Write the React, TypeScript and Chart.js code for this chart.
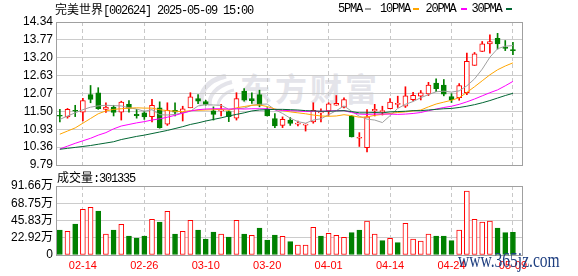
import React, { useEffect, useRef } from "react";
import { Chart, registerables } from "chart.js";
Chart.register(...registerables);

const dates = ["02-11","02-12","02-13","02-14","02-17","02-18","02-19","02-20","02-21","02-24","02-25","02-26","02-27","02-28","03-03","03-04","03-05","03-06","03-07","03-10","03-11","03-12","03-13","03-14","03-17","03-18","03-19","03-20","03-21","03-24","03-25","03-26","03-27","03-28","03-31","04-01","04-02","04-03","04-07","04-08","04-09","04-10","04-11","04-14","04-15","04-16","04-17","04-18","04-21","04-22","04-23","04-24","04-25","04-28","04-29","04-30","05-06","05-07","05-08","05-09"];

const opens = [11.36, 11.32, 11.53, 11.47, 12.03, 12.09, 11.56, 11.63, 11.47, 11.72,
  11.40, 11.45, 11.33, 11.61, 11.09, 11.53, 11.45, 11.61, 11.90, 11.81,
  11.51, 11.51, 11.49, 11.28, 12.14, 11.90, 12.03, 11.56, 11.27, 11.05,
  11.22, 11.09, 11.06, 11.16, 11.45, 11.51, 11.69, 11.63, 11.35, 10.64,
  10.34, 11.51, 11.49, 11.58, 11.72, 11.66, 11.87, 11.98, 12.05, 12.40,
  12.33, 11.97, 11.93, 12.09, 12.96, 13.40, 13.645, 13.82, 13.54, 13.46];
const highs = [11.56, 11.59, 11.69, 11.91, 12.32, 12.25, 11.77, 11.69, 11.82, 11.84,
  11.56, 11.51, 11.88, 11.80, 11.77, 11.77, 11.66, 12.09, 12.03, 11.85,
  11.64, 11.72, 11.51, 12.09, 12.22, 12.09, 12.17, 11.61, 11.43, 11.32,
  11.30, 11.19, 11.10, 11.77, 11.58, 11.77, 12.00, 11.93, 11.37, 10.82,
  11.55, 11.72, 11.66, 11.90, 11.98, 12.28, 12.10, 12.16, 12.42, 12.53,
  12.51, 12.06, 12.38, 13.35, 13.37, 13.72, 13.93, 13.98, 13.75, 13.69];
const lows = [11.16, 11.28, 11.33, 11.19, 11.77, 11.56, 11.46, 11.35, 11.22, 11.47,
  11.28, 11.24, 11.16, 10.96, 11.05, 11.35, 11.19, 11.61, 11.74, 11.69,
  11.22, 11.35, 11.17, 11.22, 11.82, 11.75, 11.64, 11.35, 10.98, 10.98,
  11.05, 11.03, 10.87, 11.12, 11.16, 11.37, 11.69, 11.61, 10.68, 10.38,
  10.21, 11.35, 11.38, 11.58, 11.62, 11.62, 11.83, 11.86, 12.00, 12.12,
  11.99, 11.78, 11.85, 12.03, 12.96, 13.40, 13.35, 13.48, 13.43, 13.30];
const closes = [11.34, 11.56, 11.50, 11.84, 11.88, 11.58, 11.63, 11.46, 11.79, 11.59,
  11.36, 11.32, 11.69, 10.98, 11.53, 11.47, 11.58, 11.96, 11.82, 11.72,
  11.40, 11.54, 11.33, 11.90, 11.85, 11.84, 11.69, 11.35, 11.03, 11.24,
  11.11, 11.12, 11.09, 11.53, 11.47, 11.74, 11.75, 11.87, 10.68, 10.65,
  11.32, 11.56, 11.50, 11.79, 11.75, 11.99, 12.01, 12.09, 12.33, 12.22,
  12.04, 11.87, 12.32, 13.09, 13.33, 13.645, 13.72, 13.645, 13.50, 13.43];

const ma5 = [11.24, 11.35, 11.45, 11.55, 11.63, 11.67, 11.69, 11.68, 11.67, 11.61,
  11.57, 11.50, 11.55, 11.39, 11.38, 11.40, 11.45, 11.50, 11.67, 11.71,
  11.70, 11.69, 11.56, 11.58, 11.60, 11.69, 11.72, 11.73, 11.55, 11.43,
  11.28, 11.17, 11.12, 11.22, 11.26, 11.39, 11.52, 11.67, 11.50, 11.34,
  11.25, 11.22, 11.14, 11.36, 11.59, 11.72, 11.81, 11.93, 12.03, 12.12,
  12.14, 12.11, 12.15, 12.31, 12.53, 12.84, 13.22, 13.49, 13.57, 13.59];
const ma10 = [10.77, 10.87, 10.97, 11.12, 11.27, 11.42, 11.51, 11.56, 11.58, 11.60,
  11.61, 11.60, 11.60, 11.55, 11.52, 11.50, 11.49, 11.52, 11.53, 11.54,
  11.55, 11.56, 11.53, 11.61, 11.65, 11.69, 11.70, 11.65, 11.57, 11.52,
  11.48, 11.45, 11.42, 11.38, 11.35, 11.34, 11.35, 11.39, 11.36, 11.31,
  11.32, 11.37, 11.40, 11.43, 11.46, 11.48, 11.51, 11.54, 11.64, 11.73,
  11.79, 11.85, 11.93, 12.10, 12.28, 12.47, 12.66, 12.82, 12.94, 13.04];
const ma20 = [10.30, 10.39, 10.48, 10.56, 10.64, 10.74, 10.82, 10.94, 11.03, 11.08,
  11.13, 11.17, 11.22, 11.26, 11.31, 11.37, 11.44, 11.51, 11.55, 11.57,
  11.58, 11.58, 11.57, 11.58, 11.57, 11.58, 11.58, 11.58, 11.55, 11.53,
  11.52, 11.51, 11.49, 11.50, 11.50, 11.51, 11.52, 11.52, 11.46, 11.41,
  11.40, 11.41, 11.41, 11.41, 11.40, 11.41, 11.43, 11.46, 11.52, 11.57,
  11.62, 11.66, 11.72, 11.80, 11.89, 11.99, 12.09, 12.18, 12.31, 12.45];
const ma30 = [10.29, 10.32, 10.35, 10.38, 10.41, 10.45, 10.49, 10.53, 10.60, 10.65,
  10.70, 10.74, 10.79, 10.84, 10.89, 10.95, 11.01, 11.08, 11.13, 11.19,
  11.24, 11.29, 11.35, 11.40, 11.45, 11.51, 11.54, 11.55, 11.56, 11.56,
  11.55, 11.54, 11.52, 11.51, 11.50, 11.50, 11.51, 11.52, 11.49, 11.45,
  11.45, 11.46, 11.45, 11.48, 11.49, 11.50, 11.52, 11.52, 11.54, 11.56,
  11.58, 11.59, 11.62, 11.66, 11.71, 11.77, 11.84, 11.92, 12.00, 12.07];

// volume in shares
const volumes = [332000, 314000, 412000, 607000, 633000, 584000, 279000, 332000, 408000, 252000,
  226000, 252000, 474000, 438000, 580000, 279000, 314000, 461000, 332000, 213000,
  306000, 279000, 239000, 461000, 279000, 262000, 359000, 199000, 266000, 248000,
  177000, 133000, 133000, 368000, 252000, 288000, 262000, 235000, 297000, 332000,
  452000, 279000, 190000, 221000, 164000, 421000, 213000, 186000, 279000, 252000,
  252000, 190000, 332000, 850000, 474000, 438000, 452000, 359000, 297000, 301335];
// 1 = red (up), 0 = green (down)
const volUp = [0,1,0,1,1,0,1,0,1,0,
  0,0,1,0,1,0,1,1,0,0,
  0,1,0,1,0,1,0,0,0,1,
  0,1,1,1,0,1,1,1,0,0,
  1,1,0,1,0,1,1,1,1,0,
  0,0,1,1,1,1,1,0,0,0];

const priceTickLabels = ["9.79","10.36","10.93","11.50","12.07","12.63","13.20","13.77","14.34"];
const volTickLabels = ["0","22.92万","45.83万","68.75万","91.66万"];
const labelIdx = [3, 11, 19, 27, 35, 43, 51, 59];

const PRICE_MIN = 9.79;
const PRICE_MAX = 14.34;
const VOL_MAX = 916600;

const RED = "#ff0000";
const GREEN = "#008000";
const MA_COLORS = ["#a0a0a0", "#ffa500", "#ff00ff", "#006633"];
const TICK_FONT = '"Liberation Sans", "Noto Sans CJK SC", sans-serif';
const MONO = '"Liberation Mono", monospace';
const CJK = '"Noto Sans CJK SC", sans-serif';

const framePlugin = {
  id: "frame",
  afterDraw(chart: any) {
    const { ctx, chartArea: a } = chart;
    ctx.save();
    ctx.strokeStyle = "#a0a0a0";
    ctx.lineWidth = 1;
    ctx.strokeRect(Math.round(a.left) + 0.5, Math.round(a.top) + 0.5,
      Math.round(a.right - a.left), Math.round(a.bottom - a.top));
    ctx.restore();
  },
};

const X_MIN = -0.5;
const X_MAX = 60.18;

export default function App() {
  const priceRef = useRef<HTMLCanvasElement>(null);
  const volRef = useRef<HTMLCanvasElement>(null);

  useEffect(() => {
    const idx = dates.map((_, i) => i);
    const up = idx.map((i) => closes[i] >= opens[i]);
    const mas = [ma5, ma10, ma20, ma30];

    const xScaleBase = (showLabels: boolean, height: number) => ({
      type: "linear" as const,
      min: X_MIN,
      max: X_MAX,
      offset: false,
      bounds: "data" as const,
      afterBuildTicks: (s: any) => {
        s.ticks = labelIdx.map((v) => ({ value: v }));
      },
      afterFit: (s: any) => {
        s.height = height;
      },
      ticks: {
        display: showLabels,
        autoSkip: false,
        maxRotation: 0,
        minRotation: 0,
        padding: 4,
        color: RED,
        font: { family: TICK_FONT, size: 11 },
        callback: (v: any) => dates[Math.round(v)] ?? "",
      },
      grid: { color: "#c8c8c8", drawTicks: false, offset: false, lineWidth: 1 },
      border: { display: false, dash: [4, 3] },
    });

    const priceChart = new Chart(priceRef.current as HTMLCanvasElement, {
      type: "bar",
      data: {
        datasets: [
          ...mas.map((m, k) => ({
            type: "line" as const,
            label: "MA" + k,
            data: idx.map((i) => ({ x: i, y: m[i] })),
            borderColor: MA_COLORS[k],
            borderWidth: 1,
            pointRadius: 0,
            tension: 0,
            fill: false,
            order: -1 - k,
          })),
          {
            type: "bar" as const,
            label: "body",
            data: idx.map((i) => ({ x: i, y: [opens[i], closes[i]] })),
            backgroundColor: idx.map((i) => (up[i] ? "#ffffff" : GREEN)),
            borderColor: idx.map((i) => (up[i] ? RED : GREEN)),
            borderWidth: 1,
            borderSkipped: false,
            barThickness: 5,
            minBarLength: 1,
            grouped: false,
            order: 0,
          },
          {
            type: "bar" as const,
            label: "wick",
            data: idx.map((i) => ({ x: i, y: [lows[i], highs[i]] })),
            backgroundColor: idx.map((i) => (up[i] ? RED : GREEN)),
            borderWidth: 0,
            barThickness: 1,
            grouped: false,
            order: 1,
          },
        ] as any,
      },
      options: {
        responsive: false,
        animation: false,
        events: [],
        layout: { padding: { top: 22, right: 56, bottom: 11, left: 0 } },
        plugins: { legend: { display: false }, tooltip: { enabled: false } },
        scales: {
          x: xScaleBase(false, 0) as any,
          y: {
            type: "linear",
            position: "left",
            min: PRICE_MIN,
            max: PRICE_MAX,
            bounds: "data",
            afterBuildTicks: (s: any) => {
              s.ticks = priceTickLabels.map((_, k) => ({
                value: PRICE_MIN + (k * (PRICE_MAX - PRICE_MIN)) / (priceTickLabels.length - 1),
              }));
            },
            afterFit: (s: any) => {
              s.width = 56;
            },
            ticks: {
              autoSkip: false,
              padding: 3,
              color: "#000",
              font: { family: TICK_FONT, size: 12 },
              callback: (_v: any, i: number) => priceTickLabels[i],
            },
            grid: { color: "#cccccc", drawTicks: false, lineWidth: 1 },
            border: { display: false },
          } as any,
        },
      },
      plugins: [framePlugin],
    });

    const volChart = new Chart(volRef.current as HTMLCanvasElement, {
      type: "bar",
      data: {
        datasets: [
          {
            label: "vol",
            data: idx.map((i) => ({ x: i, y: volumes[i] })),
            backgroundColor: idx.map((i) => (volUp[i] ? "#ffffff" : GREEN)),
            borderColor: idx.map((i) => (volUp[i] ? RED : GREEN)),
            borderWidth: 1,
            borderSkipped: false,
            barThickness: 5,
            grouped: false,
          },
        ] as any,
      },
      options: {
        responsive: false,
        animation: false,
        events: [],
        layout: { padding: { top: 16, right: 56, bottom: 0, left: 0 } },
        plugins: { legend: { display: false }, tooltip: { enabled: false } },
        scales: {
          x: xScaleBase(true, 21) as any,
          y: {
            type: "linear",
            position: "left",
            min: 0,
            max: VOL_MAX,
            bounds: "data",
            afterBuildTicks: (s: any) => {
              s.ticks = volTickLabels.map((_, k) => ({
                value: (k * VOL_MAX) / (volTickLabels.length - 1),
              }));
            },
            afterFit: (s: any) => {
              s.width = 56;
            },
            ticks: {
              autoSkip: false,
              padding: 3,
              color: "#000",
              font: { family: TICK_FONT, size: 12 },
              callback: (_v: any, i: number) => volTickLabels[i],
            },
            grid: { color: "#cccccc", drawTicks: false, lineWidth: 1 },
            border: { display: false },
          } as any,
        },
      },
      plugins: [framePlugin],
    });

    return () => {
      priceChart.destroy();
      volChart.destroy();
    };
  }, []);

  const asciiStyle: React.CSSProperties = {
    fontFamily: MONO,
    fontSize: 12,
    letterSpacing: "-1.2px",
  };
  const cjkStyle: React.CSSProperties = { fontFamily: CJK, fontSize: 12 };

  const legend = [
    { text: "5PMA", x: 338, dash: 365, color: MA_COLORS[0] },
    { text: "10PMA", x: 380, dash: 413, color: MA_COLORS[1] },
    { text: "20PMA", x: 425.5, dash: 461, color: MA_COLORS[2] },
    { text: "30PMA", x: 471.5, dash: 506, color: MA_COLORS[3] },
  ];

  return (
    <div
      style={{
        position: "absolute",
        left: 0,
        top: 0,
        width: 578,
        height: 276,
        background: "#ffffff",
        overflow: "hidden",
        color: "#000",
      }}
    >
      {/* background watermark */}
      <svg
        style={{ position: "absolute", left: 196, top: 74, zIndex: 0 }}
        width={40}
        height={34}
        viewBox="0 0 40 34"
      >
        <path d="M6 32 C 2 18, 12 6, 30 2" stroke="#e4e4ea" strokeWidth={5} fill="none" />
        <path d="M14 32 C 12 22, 20 12, 36 8" stroke="#e4e4ea" strokeWidth={4} fill="none" />
        <path d="M22 32 C 22 26, 28 18, 38 16" stroke="#e4e4ea" strokeWidth={3} fill="none" />
      </svg>
      <div
        style={{
          position: "absolute",
          left: 240,
          top: 71,
          fontFamily: CJK,
          fontSize: 32,
          fontWeight: 700,
          lineHeight: "32px",
          letterSpacing: "3px",
          color: "#e4e4ea",
          whiteSpace: "nowrap",
          zIndex: 0,
        }}
      >
        东方财富
      </div>

      <div style={{ position: "absolute", left: 0, top: 0, zIndex: 1 }}>
        <canvas ref={priceRef} width={578} height={176} style={{ display: "block", width: 578, height: 176 }} />
      </div>
      <div style={{ position: "absolute", left: 0, top: 170, zIndex: 1 }}>
        <canvas ref={volRef} width={578} height={106} style={{ display: "block", width: 578, height: 106 }} />
      </div>

      {/* title */}
      <div
        style={{
          position: "absolute",
          left: 55,
          top: 2,
          lineHeight: "14px",
          whiteSpace: "nowrap",
          zIndex: 2,
        }}
      >
        <span style={cjkStyle}>完美世界</span>
        <span style={asciiStyle}>[002624] 2025-05-09 15:00</span>
      </div>

      {/* legend */}
      {legend.map((l) => (
        <React.Fragment key={l.text}>
          <div
            style={{
              position: "absolute",
              left: l.x,
              top: 2,
              lineHeight: "14px",
              whiteSpace: "nowrap",
              zIndex: 2,
              ...asciiStyle,
            }}
          >
            {l.text}
          </div>
          <div
            style={{
              position: "absolute",
              left: l.dash,
              top: 8,
              width: 6,
              height: 2,
              background: l.color,
              zIndex: 2,
            }}
          />
        </React.Fragment>
      ))}

      {/* volume caption */}
      <div
        style={{
          position: "absolute",
          left: 57,
          top: 170,
          lineHeight: "14px",
          whiteSpace: "nowrap",
          zIndex: 2,
        }}
      >
        <span style={cjkStyle}>成交量</span>
        <span style={asciiStyle}>:301335</span>
      </div>

      {/* site watermark */}
      <div
        style={{
          position: "absolute",
          left: 458,
          top: 250,
          fontFamily: '"Liberation Serif", serif',
          fontSize: 21,
          lineHeight: "21px",
          color: "#1f3f80",
          whiteSpace: "nowrap",
          transform: "scaleX(0.74)",
          transformOrigin: "left top",
          zIndex: 3,
        }}
      >
        www.365jz.com
      </div>
    </div>
  );
}
